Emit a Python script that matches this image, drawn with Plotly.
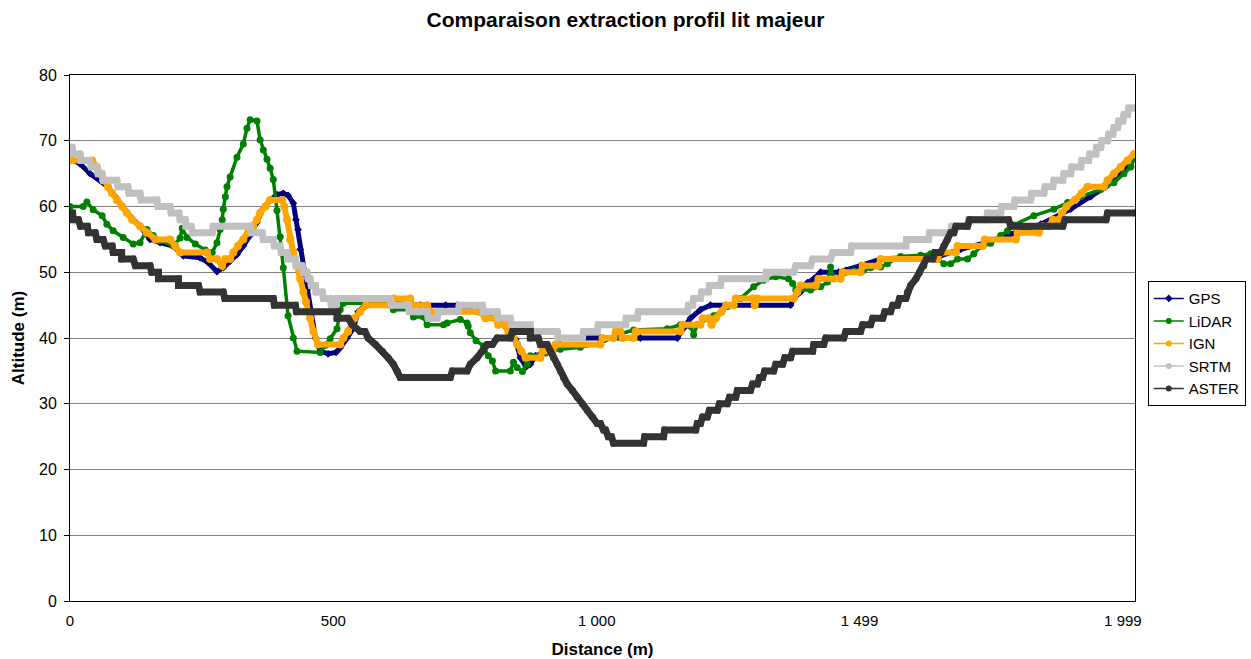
import plotly.graph_objects as go

# ---------------- data (distance in m, altitude in m) ----------------
gps_d = [0, 19, 38, 57, 72, 86, 99, 114, 133, 152, 171, 196, 215, 247, 262, 279, 291, 304, 317, 329,
         342, 355, 365, 380, 393, 405, 414, 424, 429, 433, 437, 443, 450, 456, 466, 475, 490, 505, 513, 526,
         538, 547, 564, 608, 665, 713, 735, 751, 773, 798, 823, 836, 846, 855, 866, 874, 884, 903, 922, 931,
         1007, 1083, 1153, 1165, 1178, 1197, 1216, 1368, 1374, 1387, 1400, 1412, 1425, 1459, 1473, 1501, 1539, 1653, 1691, 1739,
         1786, 1843, 1900, 1938, 1967, 1995, 2022]
gps_v = [67.3, 66.5, 65, 64, 63, 61.5, 60, 58.5, 57, 55, 54.5, 54, 52.5, 52.2, 51.5, 50.1, 50.7, 51.7, 52.7, 54,
         55.6, 57.6, 59.5, 61, 61.8, 62, 61.7, 60.5, 58, 56.5, 53.5, 50.4, 47.3, 44, 40, 38, 37.6, 37.8, 38.5, 40,
         41.5, 44, 45.2, 45.3, 45, 45, 45, 44.3, 44, 43.5, 42, 41, 39.8, 37, 35.6, 36, 37.3, 37.8, 38.8, 40,
         40, 40, 40, 41.5, 43, 44.3, 45, 45, 46, 47, 48.4, 49, 50, 50, 50.3, 51, 52, 52.5, 53.5, 54.5,
         55.8, 57.3, 59.6, 61.5, 63, 65, 68]

lidar_d = [0, 25, 32, 44, 61, 70, 82, 101, 120, 133, 146, 158, 171, 196, 209, 213, 222, 238, 257, 270,
           279, 285, 289, 291, 295, 298, 304, 317, 329, 336, 342, 355, 361, 367, 374, 380, 386, 393, 399, 405,
           414, 424, 431, 475, 485, 494, 507, 513, 519, 608, 614, 646, 652, 671, 678, 709, 716, 741, 754, 756,
           760, 771, 785, 794, 802, 808, 836, 842, 849, 859, 868, 874, 903, 931, 969, 1007, 1039, 1070, 1134, 1159,
           1178, 1184, 1191, 1222, 1248, 1273, 1298, 1317, 1340, 1364, 1372, 1378, 1406, 1425, 1438, 1444, 1450, 1463, 1488, 1507,
           1520, 1539, 1552, 1577, 1615, 1634, 1647, 1659, 1672, 1685, 1704, 1716, 1729, 1748, 1767, 1780, 1792, 1830, 1868, 1894,
           1919, 1957, 1982, 2001, 2014, 2022]
lidar_v = [60, 60, 60.7, 59.5, 58.6, 57.3, 56.3, 55.3, 54.3, 54.5, 56.5, 55.6, 54.8, 54, 55.2, 56.7, 55.3, 54.3, 53.4, 53,
           54.5, 56.5, 58, 59.6, 61.5, 63, 64.5, 67.5, 69.5, 71.9, 73.2, 73, 70.1, 68.6, 67.2, 65.8, 64.1, 59.4, 55.4, 50.7,
           43.4, 40, 38, 37.8, 38.9, 39.9, 41.4, 44.3, 45.3, 45.3, 44.3, 44.3, 43.2, 43.2, 42, 42, 42.3, 42.8, 42.3, 41.8,
           40.8, 39.6, 38.8, 37.3, 36.5, 35, 35, 36.3, 35.5, 34.9, 36, 37.3, 37.7, 38.3, 38.6, 39.2, 40.5, 41.2, 41.4, 42,
           41.8, 40.5, 42, 43.4, 44.8, 46, 47.8, 48.8, 49.3, 49, 48.3, 47.3, 47.3, 47.8, 48.5, 50.8, 49, 49.4, 50.2, 50.3,
           50.7, 50.8, 51.3, 52.4, 52.6, 52.8, 52, 51.3, 51.3, 52, 52, 52.8, 53.9, 54.4, 55.6, 56.3, 57.2, 58.6, 59.6, 60.6,
           61.5, 62.6, 63.6, 65, 66, 67.5]

ign_d = [0, 42, 51, 57, 63, 72, 80, 89, 99, 108, 118, 133, 146, 162, 190, 200, 209, 260, 266, 279,
         289, 295, 304, 310, 319, 329, 338, 348, 355, 361, 371, 380, 403, 407, 412, 418, 424, 431, 437, 443,
         448, 456, 462, 471, 513, 519, 528, 540, 551, 562, 608, 614, 646, 650, 678, 684, 779, 789, 808, 813,
         827, 832, 842, 849, 857, 865, 893, 897, 916, 922, 1007, 1011, 1032, 1036, 1045, 1049, 1070, 1074, 1159, 1163,
         1197, 1201, 1212, 1218, 1226, 1237, 1246, 1260, 1264, 1296, 1300, 1305, 1374, 1381, 1387, 1416, 1421, 1463, 1467, 1501,
         1505, 1535, 1539, 1647, 1653, 1682, 1685, 1733, 1737, 1796, 1799, 1839, 1847, 1858, 1866, 1877, 1883, 1892, 1908, 1921,
         1932, 1963, 1970, 1982, 1995, 2008, 2020]
ign_v = [67, 67, 66, 65, 64, 63, 62, 61, 60, 59, 58, 57, 56, 55, 55, 54, 53, 53, 52, 52,
         51, 52, 52, 53, 54, 55, 56, 57, 58, 59, 60, 61, 61, 60, 58, 55, 53, 51, 49, 47,
         45.5, 43, 41, 39, 39, 40, 41, 43, 44, 45, 45, 46, 46, 45, 45, 44, 44, 43, 43, 42,
         42, 41, 40, 39, 38, 37, 37, 38, 38, 39, 39, 40, 40, 41, 41, 40, 40, 41, 41, 42,
         42, 43, 43, 42, 43, 44, 45, 45, 46, 46, 45, 46, 46, 47, 48, 48, 49, 49, 50, 50,
         51, 51, 52, 52, 53, 53, 54, 54, 55, 55, 56, 56, 57, 57, 58, 58, 59, 60, 61, 62,
         63, 63, 64, 65, 66, 67, 68]

# SRTM: flat steps (start distance, end distance, altitude)
srtm_start = [0, 6, 21, 40, 53, 63, 91, 112, 135, 167, 192, 209, 220, 232, 272, 344, 367, 388, 401, 414,
              429, 443, 452, 458, 467, 481, 496, 507, 610, 644, 680, 699, 739, 785, 813, 838, 876, 927, 975, 1003,
              1056, 1079, 1174, 1184, 1199, 1214, 1237, 1322, 1378, 1410, 1448, 1484, 1588, 1632, 1674, 1706, 1742, 1769, 1794, 1826,
              1851, 1868, 1887, 1902, 1921, 1936, 1949, 1959, 1972, 1982, 1991, 2001, 2010]
srtm_end = [4, 19, 38, 51, 61, 89, 110, 133, 165, 190, 207, 219, 230, 270, 342, 365, 386, 399, 412, 428,
            441, 450, 456, 466, 479, 494, 505, 608, 642, 678, 697, 737, 783, 811, 836, 874, 925, 973, 1001, 1055,
            1077, 1172, 1182, 1197, 1212, 1235, 1321, 1374, 1406, 1444, 1482, 1587, 1630, 1672, 1704, 1740, 1767, 1792, 1824, 1849,
            1866, 1885, 1900, 1919, 1934, 1948, 1957, 1970, 1980, 1989, 1999, 2008, 2022]
srtm_v = [69, 68, 67, 66, 65, 64, 63, 62, 61, 60, 59, 58, 57, 56, 57, 56, 55, 54, 53, 52,
          51, 50, 49, 48, 47, 46, 45, 46, 45, 44, 43, 44, 45, 44, 43, 42, 41, 40, 41, 42,
          43, 44, 45, 46, 47, 48, 49, 50, 51, 52, 53, 54, 55, 56, 57, 58, 59, 60, 61, 62,
          63, 64, 65, 66, 67, 68, 69, 70, 71, 72, 73, 74, 75]

# ASTER: flat steps (start distance, end distance, altitude)
aster_start = [0, 6, 20, 35, 51, 67, 82, 98, 124, 155, 168, 206, 247, 294, 388, 430, 507, 536, 551, 566,
               580, 593, 604, 614, 621, 627, 726, 760, 773, 783, 792, 811, 840, 874, 893, 912, 918, 925, 931, 937,
               944, 954, 963, 973, 982, 992, 1001, 1013, 1022, 1032, 1091, 1129, 1191, 1201, 1214, 1233, 1252, 1267, 1296, 1309,
               1319, 1340, 1357, 1372, 1412, 1435, 1473, 1505, 1524, 1547, 1562, 1575, 1590, 1596, 1606, 1613, 1621, 1626, 1642, 1659,
               1666, 1672, 1682, 1708, 1786, 1889, 1970]
aster_end = [5, 16, 33, 48, 63, 80, 98, 120, 152, 168, 206, 244, 291, 386, 428, 507, 528, 536, 560, 566,
             580, 593, 604, 614, 621, 722, 754, 760, 773, 783, 802, 836, 874, 889, 906, 912, 918, 925, 931, 937,
             944, 954, 963, 973, 982, 992, 1007, 1017, 1028, 1089, 1127, 1188, 1197, 1210, 1229, 1248, 1264, 1292, 1305, 1315,
             1336, 1353, 1368, 1410, 1431, 1469, 1501, 1520, 1543, 1558, 1571, 1587, 1590, 1596, 1606, 1613, 1621, 1638, 1653, 1659,
             1666, 1678, 1704, 1782, 1885, 1967, 2022]
aster_v = [59, 58, 57, 56, 55, 54, 53, 52, 51, 50, 49, 48, 47, 46, 45, 44, 43, 42, 41, 40,
           39, 38, 37, 36, 35, 34, 35, 36, 37, 38, 39, 40, 41, 40, 39, 38, 37, 36, 35, 34,
           33, 32, 31, 30, 29, 28, 27, 26, 25, 24, 25, 26, 27, 28, 29, 30, 31, 32, 33, 34,
           35, 36, 37, 38, 39, 40, 41, 42, 43, 44, 45, 46, 47, 48, 49, 50, 51, 52, 53, 54,
           55, 56, 57, 58, 57, 58, 59]

x_tickvals = [0, 500, 1000, 1499, 1999]
x_ticktext = ["0", "500", "1 000", "1 499", "1 999"]


def steps(starts, ends, vals):
    xs, ys = [], []
    for s, e, v in zip(starts, ends, vals):
        xs.append(s)
        ys.append(v)
        if e != s:
            xs.append(e)
            ys.append(v)
    return xs, ys


srtm_x, srtm_y = steps(srtm_start, srtm_end, srtm_v)
aster_x, aster_y = steps(aster_start, aster_end, aster_v)

FONT = "Liberation Sans, Arial, sans-serif"

series = [
    ("GPS", gps_d, gps_v, "#000080", "diamond", 5, 6),
    ("LiDAR", lidar_d, lidar_v, "#008000", "circle", 3.5, 7),
    ("IGN", ign_d, ign_v, "#FFA500", "circle", 6, 8),
    ("SRTM", srtm_x, srtm_y, "#C0C0C0", "circle", 7, 7),
    ("ASTER", aster_x, aster_y, "#333333", "circle", 7, 7),
]

fig = go.Figure()
for name, xs, ys, col, sym, lw, ms in series:
    fig.add_trace(go.Scatter(
        x=xs, y=ys, mode="lines+markers", name=name, showlegend=False,
        line=dict(color=col, width=lw),
        marker=dict(color=col, symbol=sym, size=ms),
        hoverinfo="x+y+name",
    ))
for name, xs, ys, col, sym, lw, ms in series:
    fig.add_trace(go.Scatter(
        x=[None], y=[None], mode="lines+markers", name=name, showlegend=True,
        line=dict(color=col, width=1.5),
        marker=dict(color=col, symbol=sym, size=6),
    ))

fig.update_layout(
    width=1251, height=659,
    margin=dict(l=70, r=116, t=75, b=58, autoexpand=False),
    paper_bgcolor="white", plot_bgcolor="white",
    font=dict(family=FONT, size=15, color="black"),
    title=dict(text="<b>Comparaison extraction profil lit majeur</b>",
               x=0.5, xanchor="center", y=1 - 20 / 659, yanchor="middle",
               font=dict(family=FONT, size=21, color="black")),
    legend=dict(x=1.012, xanchor="left", y=0.608, yanchor="top",
                bordercolor="black", borderwidth=1, bgcolor="white",
                font=dict(family=FONT, size=15, color="black"),
                itemwidth=30, tracegroupgap=0),
    showlegend=True,
)
fig.update_xaxes(
    range=[0, 2022], tickmode="array", tickvals=x_tickvals, ticktext=x_ticktext,
    showgrid=False, zeroline=False, showline=True, linecolor="black", linewidth=1, mirror=True,
    ticks="", ticklabelstandoff=6, tickfont=dict(size=15), automargin=False,
    title=dict(text="<b>Distance (m)</b>", font=dict(size=17), standoff=16),
)
fig.update_yaxes(
    range=[0, 80], dtick=10, tick0=0,
    showgrid=True, gridcolor="#808080", gridwidth=1, zeroline=False,
    showline=True, linecolor="black", linewidth=1, mirror=True,
    ticks="outside", ticklen=5, tickcolor="black", ticklabelstandoff=4, tickfont=dict(size=16),
    automargin=False,
    title=dict(text="<b>Altitude (m)</b>", font=dict(size=17), standoff=10),
)

fig.write_html("out.html", config={"displayModeBar": False},
               post_script="document.body.style.margin='0';document.body.style.padding='0';")
